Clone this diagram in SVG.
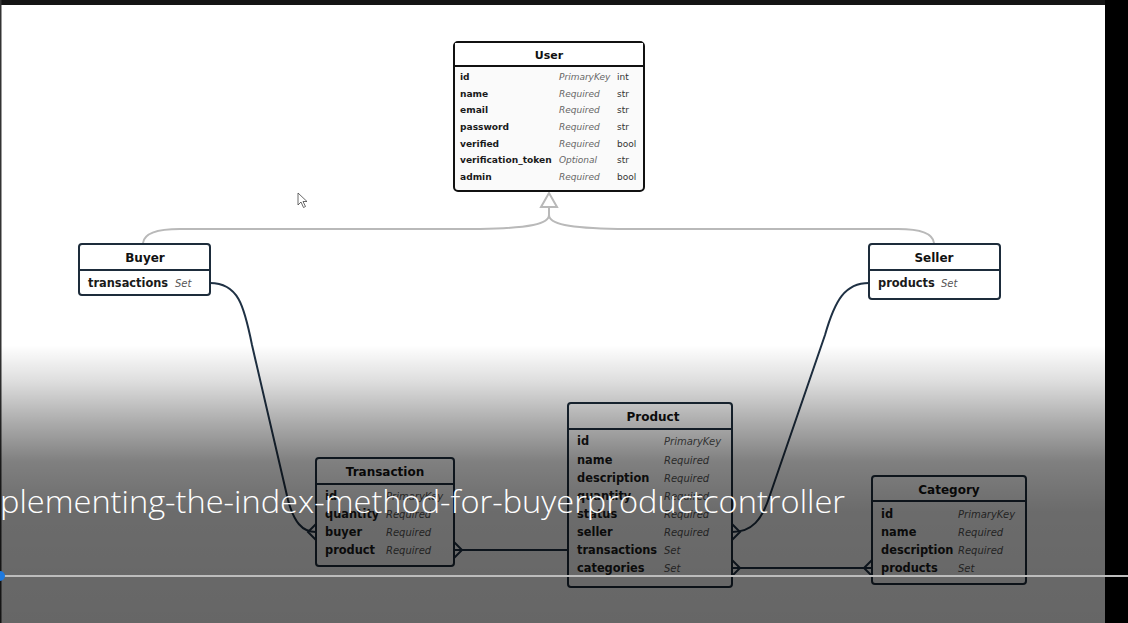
<svg xmlns="http://www.w3.org/2000/svg" width="1128" height="623" viewBox="0 0 1128 623">
<defs>
<linearGradient id="ov" gradientUnits="userSpaceOnUse" x1="0" y1="345" x2="0" y2="623">
<stop offset="0" stop-color="#000" stop-opacity="0"/>
<stop offset="0.13" stop-color="#000" stop-opacity="0.13"/>
<stop offset="0.28" stop-color="#000" stop-opacity="0.33"/>
<stop offset="0.42" stop-color="#000" stop-opacity="0.5"/>
<stop offset="0.6" stop-color="#000" stop-opacity="0.58"/>
<stop offset="1" stop-color="#000" stop-opacity="0.6"/>
</linearGradient>
</defs>
<style>
.box{fill:#ffffff;stroke:#1d2c3b;stroke-width:2}
.ubox{fill:#fafafa;stroke:#111;stroke-width:2}
.sep{stroke:#1d2c3b;stroke-width:2}
.usep{stroke:#111;stroke-width:2}
.t{font-family:"DejaVu Sans",Verdana,sans-serif;font-weight:bold;font-size:12px;fill:#111;text-anchor:middle}
.ut{font-family:"DejaVu Sans",Verdana,sans-serif;font-weight:bold;font-size:11px;fill:#111;text-anchor:middle}
.f{font-family:"DejaVu Sans",Verdana,sans-serif;font-weight:bold;font-size:11.4px;fill:#1a1a1a}
.c{font-family:"DejaVu Sans",Verdana,sans-serif;font-style:italic;font-size:10px;fill:#555}
.uf{font-family:"DejaVu Sans",Verdana,sans-serif;font-weight:bold;font-size:9.1px;fill:#1a1a1a}
.uc{font-family:"DejaVu Sans",Verdana,sans-serif;font-style:italic;font-size:9px;fill:#666}
.ty{font-family:"DejaVu Sans",Verdana,sans-serif;font-size:9px;fill:#333}
.rel{fill:none;stroke:#1f3144;stroke-width:2}
.inh{fill:none;stroke:#b9b9b9;stroke-width:2}
</style>
<rect x="0" y="0" width="1128" height="623" fill="#ffffff"/>
<rect x="0" y="0" width="1128" height="5" fill="#141414"/>
<rect x="0" y="0" width="1.5" height="623" fill="#333"/>

<g id="connectors">
<path class="inh" d="M549,207 L549,215 C549,224 530,228 480,229 L180,229 C155,229 144,234 143,243"/>
<path class="inh" d="M549,215 C549,224 568,228 618,229 L898,229 C922,229 933,234 934,243"/>
<polygon points="549,193 541,207 557,207" fill="#fff" stroke="#b9b9b9" stroke-width="2"/>
<path class="rel" d="M210,283 C238,283 244,305 252,345 L288,500 C294,522 302,532 316,532"/>
<path class="rel" d="M316,524 L308,532 L316,540"/>
<path class="rel" d="M454,550 L568,550"/>
<path class="rel" d="M454,542 L462,550 L454,558"/>
<path class="rel" d="M869,283 C845,283 835,300 825,335 L770,495 C762,520 752,532 732,532"/>
<path class="rel" d="M732,524 L740,532 L732,540"/>
<path class="rel" d="M732,568 L872,568"/>
<path class="rel" d="M732,560 L740,568 L732,576"/>
<path class="rel" d="M872,560 L864,568 L872,576"/>
</g>

<g id="user">
<rect class="ubox" x="454" y="42" width="190" height="149" rx="4"/>
<rect x="455" y="43" width="188" height="23" fill="#fff"/>
<line class="usep" x1="454" y1="66" x2="644" y2="66"/>
<text class="ut" x="549" y="59">User</text>
<text class="uf" x="460" y="80">id</text><text class="uc" x="559" y="80">PrimaryKey</text><text class="ty" x="617" y="80">int</text>
<text class="uf" x="460" y="97">name</text><text class="uc" x="559" y="97">Required</text><text class="ty" x="617" y="97">str</text>
<text class="uf" x="460" y="113">email</text><text class="uc" x="559" y="113">Required</text><text class="ty" x="617" y="113">str</text>
<text class="uf" x="460" y="130">password</text><text class="uc" x="559" y="130">Required</text><text class="ty" x="617" y="130">str</text>
<text class="uf" x="460" y="147">verified</text><text class="uc" x="559" y="147">Required</text><text class="ty" x="617" y="147">bool</text>
<text class="uf" x="460" y="163">verification_token</text><text class="uc" x="559" y="163">Optional</text><text class="ty" x="617" y="163">str</text>
<text class="uf" x="460" y="180">admin</text><text class="uc" x="559" y="180">Required</text><text class="ty" x="617" y="180">bool</text>
</g>

<g id="buyer">
<rect class="box" x="79" y="244" width="131" height="51" rx="3"/>
<line class="sep" x1="79" y1="270" x2="210" y2="270"/>
<text class="t" x="145" y="261.5">Buyer</text>
<text class="f" x="88" y="287">transactions</text><text class="c" x="175" y="287">Set</text>
</g>

<g id="seller">
<rect class="box" x="869" y="244" width="131" height="55" rx="3"/>
<line class="sep" x1="869" y1="270" x2="1000" y2="270"/>
<text class="t" x="934" y="261.5">Seller</text>
<text class="f" x="878" y="287">products</text><text class="c" x="941" y="287">Set</text>
</g>

<g id="transaction">
<rect class="box" x="316" y="458" width="138" height="108" rx="3"/>
<line class="sep" x1="316" y1="484" x2="454" y2="484"/>
<text class="t" x="385" y="475.5">Transaction</text>
<text class="f" x="325" y="500">id</text><text class="c" x="386" y="500">PrimaryKey</text>
<text class="f" x="325" y="518">quantity</text><text class="c" x="386" y="518">Required</text>
<text class="f" x="325" y="536">buyer</text><text class="c" x="386" y="536">Required</text>
<text class="f" x="325" y="554">product</text><text class="c" x="386" y="554">Required</text>
</g>

<g id="product">
<rect class="box" x="568" y="403" width="164" height="184" rx="3"/>
<line class="sep" x1="568" y1="429" x2="732" y2="429"/>
<text class="t" x="653" y="420.5">Product</text>
<text class="f" x="577" y="445">id</text><text class="c" x="664" y="445">PrimaryKey</text>
<text class="f" x="577" y="464">name</text><text class="c" x="664" y="464">Required</text>
<text class="f" x="577" y="482">description</text><text class="c" x="664" y="482">Required</text>
<text class="f" x="577" y="500">quantity</text><text class="c" x="664" y="500">Required</text>
<text class="f" x="577" y="518">status</text><text class="c" x="664" y="518">Required</text>
<text class="f" x="577" y="536">seller</text><text class="c" x="664" y="536">Required</text>
<text class="f" x="577" y="554">transactions</text><text class="c" x="664" y="554">Set</text>
<text class="f" x="577" y="572">categories</text><text class="c" x="664" y="572">Set</text>
</g>

<g id="category">
<rect class="box" x="872" y="476" width="154" height="108" rx="3"/>
<line class="sep" x1="872" y1="501" x2="1026" y2="501"/>
<text class="t" x="949" y="493.5">Category</text>
<text class="f" x="881" y="518">id</text><text class="c" x="958" y="518">PrimaryKey</text>
<text class="f" x="881" y="536">name</text><text class="c" x="958" y="536">Required</text>
<text class="f" x="881" y="554">description</text><text class="c" x="958" y="554">Required</text>
<text class="f" x="881" y="572">products</text><text class="c" x="958" y="572">Set</text>
</g>

<polygon points="298,193 298,205 301,202 303.5,207.5 305.5,206.5 303,201.5 307,201.5" fill="#fff" stroke="#444" stroke-width="0.8"/>

<rect x="0" y="345" width="1128" height="278" fill="url(#ov)"/>
<rect x="1105" y="0" width="23" height="623" fill="#000"/>

<text x="0" y="513" font-family="'Open Sans','Segoe UI',sans-serif" font-weight="300" font-size="31" fill="#fff" textLength="845" lengthAdjust="spacingAndGlyphs">plementing-the-index-method-for-buyerproductcontroller</text>
<line x1="0" y1="576" x2="1128" y2="576" stroke="#bdbdbd" stroke-width="2"/>
<circle cx="0" cy="576" r="5" fill="#1f7ae0"/>
</svg>
